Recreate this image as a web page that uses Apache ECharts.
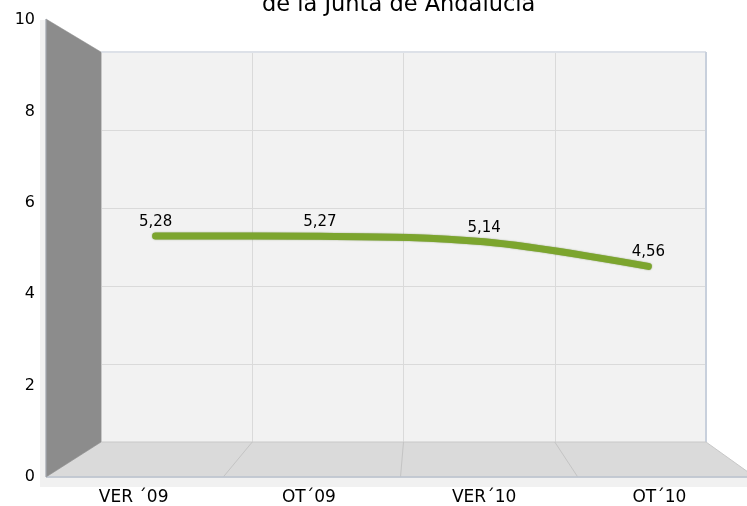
<!DOCTYPE html>
<html>
<head>
<meta charset="utf-8">
<script src="https://cdn.jsdelivr.net/npm/echarts@6/dist/echarts.min.js"></script>
<style>html,body{margin:0;padding:0;background:#fff;}#c{width:747px;height:506px;}</style>
</head>
<body>
<div id="c"></div>
<script>
const categories = ["VER \u00B409", "OT\u00B409", "VER\u00B410", "OT\u00B410"];
const values = [5.28, 5.27, 5.14, 4.56];
const yMin = 0, yMax = 10, yStep = 2;
const titleText = "de la Junta de Andaluc\u00EDa";

// plane geometry (decorative 3D frame)
const back = {l: 101, t: 52, w: 605, h: 390};
const front = {l: 46, t: 20, w: 709, h: 457};
const mid = {l: 73.5, t: 36, w: 657, h: 423.5};
const W = 747, H = 506;
const font = "DejaVu Sans";

const chart = echarts.init(document.getElementById('c'), null, {renderer: 'canvas'});

function gridOf(p, extra) {
  return Object.assign({left: p.l, top: p.t, width: p.w, height: p.h, containLabel: false}, extra || {});
}

const floorLines = [];
for (let i = 1; i < categories.length; i++) {
  const bx = back.l + back.w * i / categories.length;
  const fx = front.l + front.w * i / categories.length;
  floorLines.push({type: 'line', z: 2, silent: true,
    shape: {x1: bx, y1: back.t + back.h, x2: fx, y2: front.t + front.h},
    style: {stroke: '#c4c4c4', lineWidth: 1}});
}

const option = {
  animation: false,
  backgroundColor: '#ffffff',
  textStyle: {fontFamily: font},
  grid: [
    gridOf(back, {show: true, backgroundColor: '#f2f2f2', borderWidth: 0}),
    gridOf(front),
    gridOf(mid)
  ],
  xAxis: [
    {gridIndex: 0, type: 'category', data: categories, boundaryGap: true,
     axisLine: {show: false}, axisTick: {show: false}, axisLabel: {show: false},
     splitLine: {show: true, lineStyle: {color: '#dadada', width: 1}}},
    {gridIndex: 1, type: 'category', data: categories, boundaryGap: true,
     axisLine: {show: false}, axisTick: {show: false},
     axisLabel: {show: true, color: '#000', fontSize: 17, fontFamily: font, margin: 12},
     splitLine: {show: false}},
    {gridIndex: 2, type: 'category', data: categories, boundaryGap: true, show: false}
  ],
  yAxis: [
    {gridIndex: 0, type: 'value', min: yMin, max: yMax, interval: yStep,
     axisLine: {show: false}, axisTick: {show: false}, axisLabel: {show: false},
     splitLine: {show: true, lineStyle: {color: '#dadada', width: 1}}},
    {gridIndex: 1, type: 'value', min: yMin, max: yMax, interval: yStep,
     axisLine: {show: false}, axisTick: {show: false},
     axisLabel: {show: true, color: '#000', fontSize: 16, fontFamily: font, margin: 11},
     splitLine: {show: false}},
    {gridIndex: 2, type: 'value', min: yMin, max: yMax, interval: yStep, show: false}
  ],
  graphic: [
    // title (second line, cut at top)
    {type: 'text', left: 262, top: -6, z: 10, silent: true,
     style: {text: titleText, font: '22.5px "DejaVu Sans"', fill: '#000'}},
    // light base strips
    {type: 'rect', z: 1, silent: true,
     shape: {x: front.l - 6, y: front.t, width: 6, height: front.h + 10},
     style: {fill: '#f1f1f1'}},
    {type: 'rect', z: 1, silent: true,
     shape: {x: front.l - 6, y: front.t + front.h, width: W - front.l + 6, height: 10},
     style: {fill: '#f1f1f1'}},
    // back wall top and right edges
    {type: 'line', z: 2, silent: true,
     shape: {x1: back.l, y1: back.t, x2: back.l + back.w, y2: back.t},
     style: {stroke: '#dde1e8', lineWidth: 2}},
    {type: 'line', z: 2, silent: true,
     shape: {x1: back.l + back.w, y1: back.t, x2: back.l + back.w, y2: back.t + back.h},
     style: {stroke: '#c8d0dc', lineWidth: 2}},
    // floor
    {type: 'polygon', z: 2, silent: true,
     shape: {points: [[back.l, back.t + back.h], [back.l + back.w, back.t + back.h],
                      [front.l + front.w, front.t + front.h], [front.l, front.t + front.h]]},
     style: {fill: '#dadada', stroke: '#c8c8c8', lineWidth: 1}},
    ...floorLines,
    // floor front edge
    {type: 'line', z: 3, silent: true,
     shape: {x1: front.l, y1: front.t + front.h, x2: W, y2: front.t + front.h},
     style: {stroke: '#bcc4d0', lineWidth: 1.5}},
    // left wall
    {type: 'polygon', z: 3, silent: true,
     shape: {points: [[front.l, front.t - 1], [back.l, back.t], [back.l, back.t + back.h],
                      [front.l, front.t + front.h]]},
     style: {fill: '#8c8c8c', stroke: '#8c8c8c', lineWidth: 0.5}},
    {type: 'line', z: 3, silent: true,
     shape: {x1: front.l, y1: front.t - 1, x2: front.l, y2: front.t + front.h},
     style: {stroke: '#a6acb6', lineWidth: 1}}
  ],
  series: [
    {type: 'line', xAxisIndex: 2, yAxisIndex: 2, data: values, smooth: 0.35,
     z: 5, symbol: 'circle', symbolSize: 1, showSymbol: true,
     itemStyle: {color: 'rgba(0,0,0,0)', borderWidth: 0},
     lineStyle: {color: '#7ca52e', width: 7, cap: 'round', join: 'round',
                 shadowColor: 'rgba(70,100,20,0.6)', shadowBlur: 1.5},
     label: {show: true, position: 'top', distance: 6, color: '#000', fontSize: 15,
             fontFamily: font,
             formatter: p => String(p.value.toFixed(2)).replace('.', ',')}}
  ]
};
chart.setOption(option);
</script>
</body>
</html>
